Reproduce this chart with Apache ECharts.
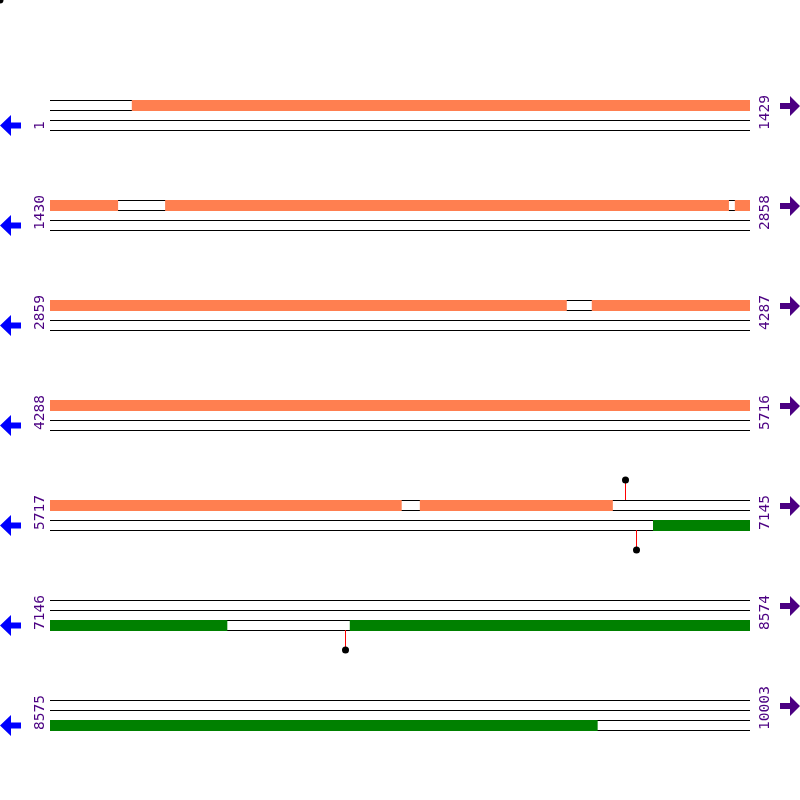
<!DOCTYPE html>
<html><head><meta charset="utf-8">
<script src="https://cdn.jsdelivr.net/npm/echarts@6/dist/echarts.min.js"></script>
<style>html,body{margin:0;padding:0;background:#fff}#c{width:800px;height:800px}</style>
</head><body><div id="c"></div>
<script>
// ---- data ----
const seqLength = 10003;
const rowLength = 1429;
const forwardGenes = [[168, 1568], [1665, 2815], [2828, 3913], [3965, 6434], [6472, 6865]];
const reverseGenes = [[6948, 7507], [7758, 9692]];
const forwardSites = [6891];
const reverseSites = [6913, 7748];

// ---- derived ----
const rows = [];
for (let r = 0, s = 1; s <= seqLength; r++, s += rowLength) {
  rows.push([r, s, Math.min(s + rowLength - 1, seqLength)]);
}
const ROW_UNITS = 10, FIRST = 10;
function rowTop(r) { return FIRST + r * ROW_UNITS; }

const geneSegs = [];
function splitGene(g, strand) {
  rows.forEach(([r, s, e]) => {
    const a = Math.max(g[0], s), b = Math.min(g[1], e);
    if (a <= b) geneSegs.push([r, a - s, b - s + 1, strand]);
  });
}
forwardGenes.forEach(g => splitGene(g, 0));
reverseGenes.forEach(g => splitGene(g, 1));

const siteData = [];
function addSite(p, strand) {
  rows.forEach(([r, s, e]) => { if (p >= s && p <= e) siteData.push([r, p - s + 0.5, strand]); });
}
forwardSites.forEach(p => addSite(p, 0));
reverseSites.forEach(p => addSite(p, 1));

const LABEL = '#4B0082';
const FONT = '14.6px "DejaVu Sans Mono"';
const chart = echarts.init(document.getElementById('c'), null, {renderer: 'canvas'});
chart.setOption({
  animation: false,
  grid: {left: 50, right: 50, top: 0, bottom: 0},
  xAxis: {type: 'value', min: 0, max: rowLength, show: false},
  yAxis: {type: 'value', min: 0, max: 80, inverse: true, show: false},
  graphic: [{type: 'circle', shape: {cx: 0, cy: 0, r: 3.5}, style: {fill: '#000'}}],
  series: [
    {
      type: 'custom', clip: false, silent: true, z: 1,
      data: rows,
      renderItem(params, api) {
        const r = api.value(0), s = api.value(1), e = api.value(2);
        const top = rowTop(r);
        const children = [];
        for (let k = 0; k < 4; k++) {
          const p0 = api.coord([0, top + k]);
          const p1 = api.coord([e - s + 1, top + k]);
          const y = Math.round(p0[1]) + 0.5;
          children.push({type: 'line', shape: {x1: p0[0], y1: y, x2: p1[0], y2: y},
            style: {stroke: '#000', lineWidth: 1}});
        }
        const L = api.coord([0, top + 3]);
        const R = api.coord([rowLength, top + 3]);
        const T = api.coord([0, top]);
        children.push({type: 'text', x: L[0] - 10, y: L[1], rotation: Math.PI / 2,
          style: {text: String(s), fill: LABEL, font: FONT, align: 'left', verticalAlign: 'middle'}});
        children.push({type: 'text', x: R[0] + 15, y: L[1], rotation: Math.PI / 2,
          style: {text: String(e), fill: LABEL, font: FONT, align: 'left', verticalAlign: 'middle'}});
        const c1 = T[1] + 25.5, lx = L[0] - 50;
        children.push({type: 'polygon', shape: {points: [[lx, c1], [lx + 11, c1 - 10.5], [lx + 11, c1 - 3], [lx + 21, c1 - 3], [lx + 21, c1 + 3], [lx + 11, c1 + 3], [lx + 11, c1 + 10.5]]},
          style: {fill: '#0000FF'}});
        const c2 = T[1] + 6, rx = R[0] + 30;
        children.push({type: 'polygon', shape: {points: [[rx, c2 - 3], [rx + 10, c2 - 3], [rx + 10, c2 - 10], [rx + 20, c2], [rx + 10, c2 + 10], [rx + 10, c2 + 3], [rx, c2 + 3]]},
          style: {fill: LABEL}});
        return {type: 'group', children};
      }
    },
    {
      type: 'custom', clip: false, silent: true, z: 2,
      data: geneSegs,
      renderItem(params, api) {
        const r = api.value(0), a = api.value(1), b = api.value(2), st = api.value(3);
        const top = rowTop(r) + st * 2;
        const p0 = api.coord([a, top]);
        const p1 = api.coord([b, top + 1]);
        return {type: 'rect', shape: {x: p0[0], y: Math.round(p0[1]), width: p1[0] - p0[0], height: Math.round(p1[1]) - Math.round(p0[1]) + 1},
          style: {fill: st === 0 ? '#FF7F50' : '#008000'}};
      }
    },
    {
      type: 'custom', clip: false, silent: true, z: 3,
      data: siteData,
      renderItem(params, api) {
        const r = api.value(0), x = api.value(1), st = api.value(2);
        const top = rowTop(r);
        const base = api.coord([x, st === 0 ? top : top + 3]);
        const tip = api.coord([x, st === 0 ? top - 2 : top + 5]);
        const px = Math.round(base[0]) + 0.5;
        return {type: 'group', children: [
          {type: 'line', shape: {x1: px, y1: base[1], x2: px, y2: tip[1]}, style: {stroke: '#FF0000', lineWidth: 1}},
          {type: 'circle', shape: {cx: px, cy: tip[1], r: 3.5}, style: {fill: '#000'}}
        ]};
      }
    }
  ]
});
</script>
</body></html>
